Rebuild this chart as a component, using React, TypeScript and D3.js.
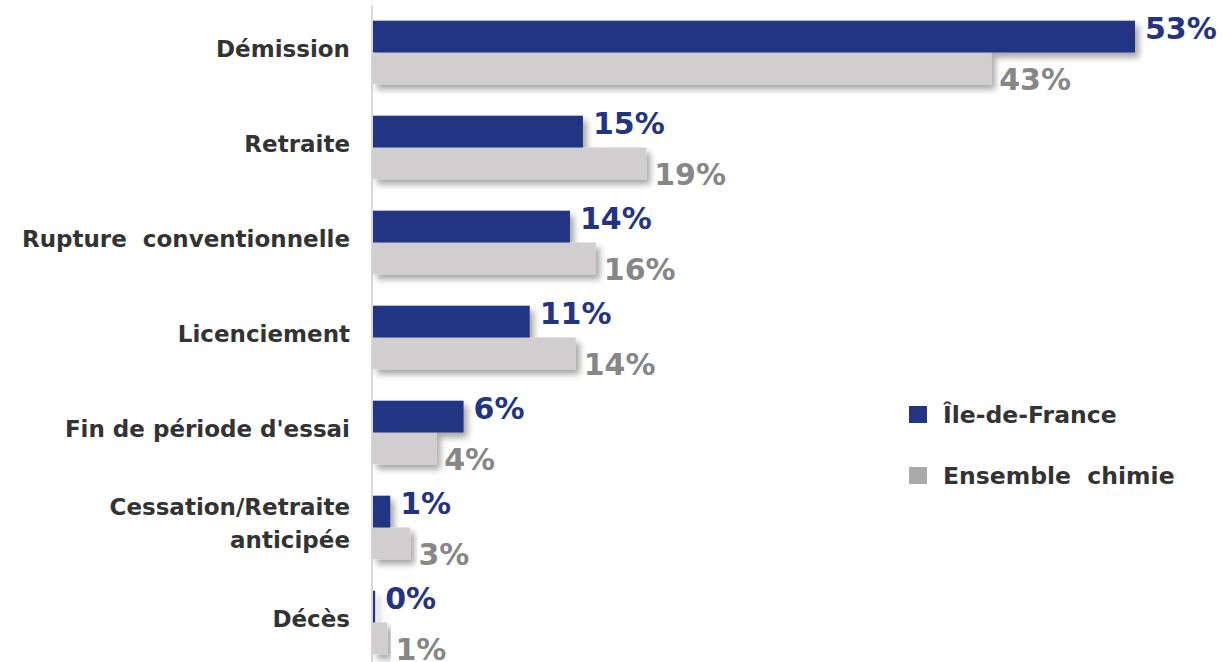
import React from "react";
import * as d3 from "d3";

const categories = [
  "Démission",
  "Retraite",
  "Rupture  conventionnelle",
  "Licenciement",
  "Fin de période d'essai",
  "Cessation/Retraite\nanticipée",
  "Décès",
];
const ileDeFrance = [53, 14.6, 13.7, 10.9, 6.3, 1.2, 0.15];
const ensembleChimie = [43, 19, 15.5, 14.1, 4.4, 2.6, 1.0];
const seriesNames = ["Île-de-France", "Ensemble  chimie"];

const W = 1222;
const H = 662;
const BLUE = "#243482";
const GRAY = "#d0cece";
const LEG_GRAY = "#abaaaa";
const LABEL_BLUE = "#253480";
const LABEL_GRAY = "#878787";
const TEXT = "#333333";
const FONT = "'DejaVu Sans', Verdana, sans-serif";

export default function App() {
  const x = d3.scaleLinear().domain([0, 53]).range([373, 1135]);
  const y = d3
    .scaleBand<string>()
    .domain(categories)
    .range([5, 670])
    .paddingInner(0.33)
    .paddingOuter(0.165);
  const bw = y.bandwidth() / 2;
  const fmt = (v: number) => `${Math.round(v)}%`;

  return (
    <svg
      width={W}
      height={H}
      style={{ position: "absolute", left: 0, top: 0, background: "#fff" }}
      fontFamily={FONT}
    >
      <defs>
        <filter id="shadow" x="-10%" y="-30%" width="130%" height="190%">
          <feDropShadow dx="4" dy="5" stdDeviation="3" floodColor="#000" floodOpacity="0.35" />
        </filter>
      </defs>
      <line x1={372} x2={372} y1={5} y2={H} stroke="#d9d9d9" strokeWidth={2} />
      {categories.map((c, i) => {
        const y0 = y(c)!;
        const cy = y0 + y.bandwidth() / 2;
        const lines = c.split("\n");
        const x0 = x(0);
        const xb = x(ileDeFrance[i]);
        const xg = x(ensembleChimie[i]);
        return (
          <g key={c}>
            <g filter="url(#shadow)">
              <rect x={x0} y={y0 + bw} width={xg - x0} height={bw} fill={GRAY} />
              <rect x={x0} y={y0} width={xb - x0} height={bw} fill={BLUE} />
            </g>
            <text
              x={xb + 10}
              y={y0 + bw / 2 - 8}
              dominantBaseline="central"
              fontSize={30}
              fontWeight="bold"
              fill={LABEL_BLUE}
            >
              {fmt(ileDeFrance[i])}
            </text>
            <text
              x={xg + 8}
              y={y0 + bw * 1.5 + 11}
              dominantBaseline="central"
              fontSize={30}
              fontWeight="bold"
              fill={LABEL_GRAY}
            >
              {fmt(ensembleChimie[i])}
            </text>
            <text
              textAnchor="end"
              fontSize={23}
              fontWeight="bold"
              fill={TEXT}
              style={{ whiteSpace: "pre" }}
            >
              {lines.map((l, k) => (
                <tspan
                  key={k}
                  x={350}
                  y={cy - 4 + (k - (lines.length - 1) / 2) * 33}
                  dominantBaseline="central"
                >
                  {l}
                </tspan>
              ))}
            </text>
          </g>
        );
      })}
      {seriesNames.map((s, i) => (
        <g key={s} transform={`translate(909, ${406 + i * 61})`}>
          <rect width={18} height={17} fill={i === 0 ? BLUE : LEG_GRAY} />
          <text
            x={34}
            y={9}
            dominantBaseline="central"
            fontSize={23.5}
            fontWeight="bold"
            fill={TEXT}
            style={{ whiteSpace: "pre" }}
          >
            {s}
          </text>
        </g>
      ))}
    </svg>
  );
}
